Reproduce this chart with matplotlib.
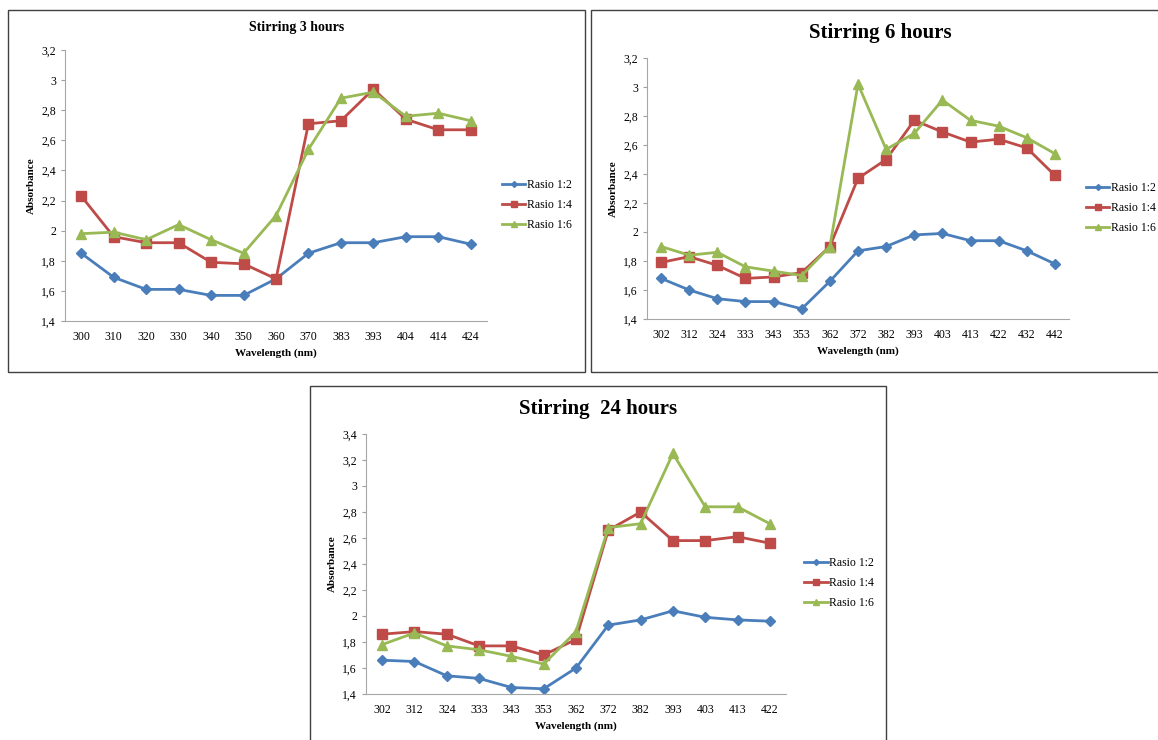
import matplotlib.pyplot as plt
from matplotlib.patches import Rectangle
from matplotlib.ticker import FuncFormatter

# data
wl_3h = ['300', '310', '320', '330', '340', '350', '360', '370', '383', '393', '404', '414', '424']
r12_3h = [1.85, 1.69, 1.61, 1.61, 1.57, 1.57, 1.68, 1.85, 1.92, 1.92, 1.96, 1.96, 1.91]
r14_3h = [2.23, 1.96, 1.92, 1.92, 1.79, 1.78, 1.68, 2.71, 2.73, 2.94, 2.74, 2.67, 2.67]
r16_3h = [1.98, 1.99, 1.94, 2.04, 1.94, 1.85, 2.10, 2.54, 2.88, 2.92, 2.76, 2.78, 2.73]

wl_6h = ['302', '312', '324', '333', '343', '353', '362', '372', '382', '393', '403', '413', '422', '432', '442']
r12_6h = [1.68, 1.60, 1.54, 1.52, 1.52, 1.47, 1.66, 1.87, 1.90, 1.98, 1.99, 1.94, 1.94, 1.87, 1.78]
r14_6h = [1.79, 1.83, 1.77, 1.68, 1.69, 1.72, 1.90, 2.37, 2.50, 2.77, 2.69, 2.62, 2.64, 2.58, 2.39]
r16_6h = [1.90, 1.84, 1.86, 1.76, 1.73, 1.70, 1.90, 3.02, 2.57, 2.68, 2.91, 2.77, 2.73, 2.65, 2.54]

wl_24h = ['302', '312', '324', '333', '343', '353', '362', '372', '382', '393', '403', '413', '422']
r12_24h = [1.66, 1.65, 1.54, 1.52, 1.45, 1.44, 1.60, 1.93, 1.97, 2.04, 1.99, 1.97, 1.96]
r14_24h = [1.86, 1.88, 1.86, 1.77, 1.77, 1.70, 1.82, 2.66, 2.80, 2.58, 2.58, 2.61, 2.56]
r16_24h = [1.78, 1.87, 1.77, 1.74, 1.69, 1.63, 1.88, 2.68, 2.71, 3.25, 2.84, 2.84, 2.71]

series_names = ['Rasio 1:2', 'Rasio 1:4', 'Rasio 1:6']
colors = ['#4A7EBB', '#BE4B48', '#98B954']
markers = ['D', 's', '^']
msizes = [5, 7, 7]

plt.rcParams['font.family'] = ['Liberation Serif', 'DejaVu Serif']

W, H = 1158, 740
fig = plt.figure(figsize=(W / 100, H / 100), dpi=100)
fig.patch.set_facecolor('white')


def box(x0, y0, x1, y1, title, tsize, ty):
    '''panel frame in pixel coords, title centred on the frame'''
    fig.patches.append(Rectangle((x0 / W, 1 - y1 / H), (x1 - x0) / W, (y1 - y0) / H,
                                 transform=fig.transFigure, fill=False,
                                 edgecolor='#404040', linewidth=1.0))
    fig.text((x0 + x1) / 2 / W, 1 - ty / H, title, fontsize=tsize, fontweight='bold',
             ha='center', va='center')


def panel(rect, labels, ys, ylim, leg_xy):
    x0, y0, x1, y1 = rect
    ax = fig.add_axes([x0 / W, 1 - y1 / H, (x1 - x0) / W, (y1 - y0) / H])
    xs = range(len(labels))
    for vals, name, c, m, ms in zip(ys, series_names, colors, markers, msizes):
        ax.plot(xs, vals, color=c, marker=m, markersize=ms, linewidth=2, label=name)
    ax.set_xlim(-0.5, len(labels) - 0.5)
    ax.set_ylim(*ylim)
    ax.set_yticks([round(ylim[0] + 0.2 * i, 1) for i in range(int(round((ylim[1] - ylim[0]) / 0.2)) + 1)])
    ax.yaxis.set_major_formatter(FuncFormatter(lambda v, p: f"{round(v, 1):g}".replace('.', ',')))
    ax.set_xticks(list(xs))
    ax.set_xticklabels(labels)
    ax.tick_params(axis='x', length=0, labelsize=8.5, pad=7)
    ax.tick_params(axis='y', length=3, color='#A0A0A0', labelsize=8.5)
    for s in ['top', 'right']:
        ax.spines[s].set_visible(False)
    for s in ['left', 'bottom']:
        ax.spines[s].set_color('#A6A6A6')
    ax.set_xlabel('Wavelength (nm)', fontsize=8, fontweight='bold', labelpad=4)
    ax.set_ylabel('Absorbance', fontsize=8, fontweight='bold', labelpad=4)
    ax.legend(loc='center left', bbox_to_anchor=leg_xy, frameon=False, fontsize=8.5,
              handlelength=2.0, handletextpad=0.15, labelspacing=0.7,
              borderpad=0, borderaxespad=0, markerscale=0.6)
    return ax


box(8, 10, 585, 372, 'Stirring 3 hours', 10, 28)
box(591, 10, 1169, 372, 'Stirring 6 hours', 15, 33)
box(310, 386, 886, 760, 'Stirring  24 hours', 15, 409)

panel((65, 50, 487, 321), wl_3h, [r12_3h, r14_3h, r16_3h], (1.4, 3.2), (1.035, 0.428))
panel((647, 58, 1069, 319), wl_6h, [r12_6h, r14_6h, r16_6h], (1.4, 3.2), (1.040, 0.425))
panel((366, 434, 786, 694), wl_24h, [r12_24h, r14_24h, r16_24h], (1.4, 3.4), (1.043, 0.427))

plt.savefig('out.png', dpi=100)
